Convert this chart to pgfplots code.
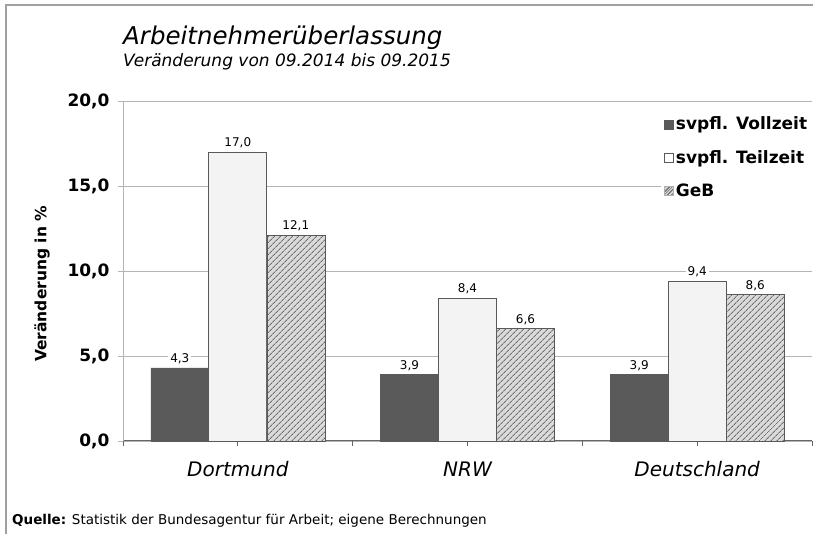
\documentclass[border=0pt]{standalone}
\usepackage{pgfplots}
\pgfplotsset{compat=1.18}
\usepackage{fontspec}
\setmainfont{DejaVu Sans}
\usetikzlibrary{patterns.meta}
\definecolor{voll}{HTML}{5A5A5A}
\definecolor{teil}{HTML}{F3F3F3}
\definecolor{gebbg}{HTML}{DADADA}
\definecolor{gebln}{HTML}{6E6E6E}
\definecolor{gridc}{HTML}{B4B4B4}
\definecolor{framec}{HTML}{A0A0A0}
\pgfkeys{/pgf/number format/.cd,fixed,fixed zerofill,precision=1,use comma}
\begin{document}
\begin{tikzpicture}
\path[use as bounding box] (0pt,0pt) rectangle (816pt,534pt);
\draw[framec, line width=1.5pt] (6pt,0pt) -- (6pt,529pt) -- (813pt,529pt);
\node[anchor=base west, inner sep=0pt, font=\itshape\fontsize{24.5}{28}\selectfont] at (123pt,489pt) {Arbeitnehmerüberlassung};
\node[anchor=base west, inner sep=0pt, font=\itshape\fontsize{17}{20}\selectfont] at (123pt,467pt) {Veränderung von 09.2014 bis 09.2015};
\node[anchor=base west, inner sep=0pt, font=\fontsize{13.5}{16}\selectfont] at (12pt,9pt) {\textbf{Quelle:} Statistik der Bundesagentur für Arbeit; eigene Berechnungen};
\begin{axis}[
  at={(123pt,93pt)}, anchor=south west,
  scale only axis, width=689pt, height=340pt,
  xmin=-0.5, xmax=2.5, ymin=0, ymax=20,
  ybar=0pt, bar width=58pt,
  axis x line*=bottom, axis y line*=left,
  x axis line style={-, draw=gray!80!black, line width=1pt},
  y axis line style={-, draw=gridc, line width=0.8pt},
  xtick={-0.5,0.5,1.5,2.5}, xticklabels={},
  major x tick style={draw=gray!80!black, line width=1pt},
  extra x ticks={0,1,2}, extra x tick labels={Dortmund,NRW,Deutschland},
  extra x tick style={tick style={draw=none}, x tick label style={font=\itshape\fontsize{20}{24}\selectfont, yshift=-12pt}},
  ytick={0,5,10,15,20},
  y tick label style={font=\bfseries\fontsize{17}{20}\selectfont, xshift=-5pt},
  /pgf/number format/assume math mode=true,
  major y tick style={draw=gridc, line width=0.8pt},
  tick align=outside, major tick length=5pt,
  ymajorgrids, grid style={draw=gridc, line width=0.8pt},
  ylabel={Veränderung in \%},
  ylabel style={at={(axis description cs:-0.1176,0.462)}, anchor=center, font=\bfseries\fontsize{15.5}{18}\selectfont},
  nodes near coords,
  every node near coord/.append style={font=\fontsize{12}{14}\selectfont, fill=white, inner sep=2pt, anchor=south, yshift=2pt, /pgf/number format/assume math mode=true},
  legend style={at={(axis description cs:0.781,0.968)}, anchor=north west, draw=none, fill=white,
    font=\bfseries\fontsize{17}{20}\selectfont, row sep=15pt, inner sep=3pt},
  legend cell align=left,
  clip=false,
]
\addplot[fill=voll, draw=voll, legend image code/.code={\draw[fill=voll,draw=voll] (0pt,-4.5pt) rectangle (9pt,4.5pt);}]
  coordinates {(0,4.3) (1,3.9) (2,3.9)};
\addlegendentry{svpfl. Vollzeit}
\addplot[fill=teil, draw=gray!70!black, line width=0.8pt, legend image code/.code={\draw[fill=white,draw=gray!70!black,line width=0.6pt] (0pt,-4.5pt) rectangle (9pt,4.5pt);}]
  coordinates {(0,17.0) (1,8.4) (2,9.4)};
\addlegendentry{svpfl. Teilzeit}
\addplot[fill=gebbg, draw=gray!70!black, line width=0.6pt, postaction={pattern={Lines[angle=45,distance=4pt,line width=0.9pt]}, pattern color=gebln},
  legend image code/.code={\draw[fill=gebbg,draw=gray!60,postaction={pattern={Lines[angle=45,distance=2.5pt,line width=0.6pt]}, pattern color=gebln}] (0pt,-4.5pt) rectangle (9pt,4.5pt);}]
  coordinates {(0,12.1) (1,6.6) (2,8.6)};
\addlegendentry{GeB}
\end{axis}
\end{tikzpicture}
\end{document}
